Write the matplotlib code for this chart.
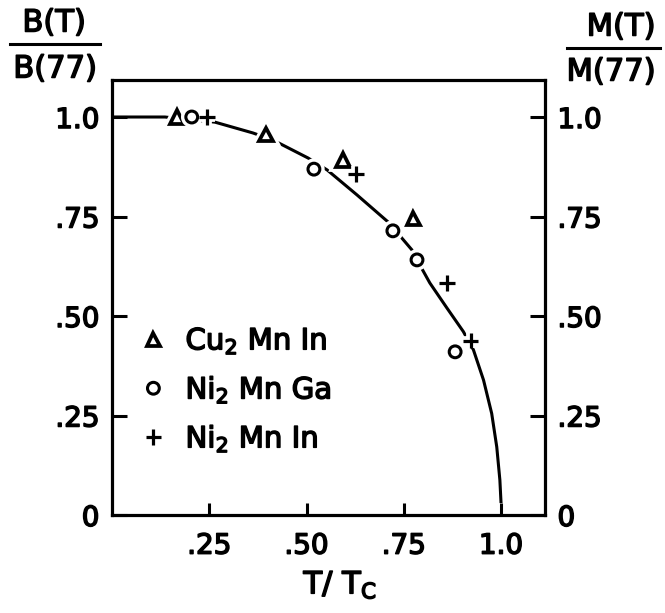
import numpy as np
import matplotlib.pyplot as plt
import matplotlib.patheffects as pe
from matplotlib.lines import Line2D

# smooth curve drawn through the data
curve_x = [0.0, 0.136, 0.265, 0.362, 0.414, 0.504, 0.553, 0.630, 0.710, 0.771,
           0.784, 0.817, 0.861, 0.903, 0.929, 0.955, 0.976, 0.989, 0.997, 1.0]
curve_y = [1.0, 1.0, 0.987, 0.960, 0.942, 0.897, 0.867, 0.804, 0.736, 0.666,
           0.641, 0.583, 0.520, 0.461, 0.415, 0.339, 0.255, 0.171, 0.088, 0.03]

# measured points
cu_x = [0.167, 0.396, 0.594, 0.774]
cu_y = [1.0, 0.957, 0.892, 0.744]
niga_x = [0.205, 0.519, 0.722, 0.784, 0.882]
niga_y = [1.0, 0.869, 0.714, 0.641, 0.41]
niin_x = [0.244, 0.627, 0.861, 0.922]
niin_y = [1.0, 0.857, 0.583, 0.438]

labels = [r'Cu$_2$ Mn In', r'Ni$_2$ Mn Ga', r'Ni$_2$ Mn In']
ticks = [0.25, 0.5, 0.75, 1.0]
xtick_labels = ['.25', '.50', '.75', '1.0']
yticks = [0, 0.25, 0.5, 0.75, 1.0]
ytick_labels = ['0', '.25', '.50', '.75', '1.0']

plt.rcParams['font.family'] = 'DejaVu Sans'
plt.rcParams['mathtext.default'] = 'regular'

# thicken the lettering a little, like the ink drawing
ink = [pe.withStroke(linewidth=1.1, foreground='black')]

W, H = 665, 613
fig = plt.figure(figsize=(W / 100, H / 100), dpi=100)
ax = fig.add_axes([112 / W, 1 - 515 / H, 433 / W, 435 / H])

ax.plot(curve_x, curve_y, color='black', lw=2.2, solid_capstyle='butt', zorder=2)

halo = [pe.withStroke(linewidth=7, foreground='white')]
kw = dict(ls='none', color='black', mfc='white', zorder=3, path_effects=halo)
ax.plot(cu_x, cu_y, marker='^', ms=9.5, mew=2.7, label=labels[0], **kw)
ax.plot(niga_x, niga_y, marker='o', ms=8.5, mew=2.2, label=labels[1], **kw)
ax.plot(niin_x, niin_y, marker='+', ms=11, mew=2.3, label=labels[2], **kw)

ax.set_xlim(0, 1.113)
ax.set_ylim(0, 1.093)

for s in ax.spines.values():
    s.set_linewidth(2.3)

ax.set_xticks(ticks)
ax.set_xticklabels(xtick_labels)
ax.set_yticks(yticks)
ax.set_yticklabels(ytick_labels)
ax.tick_params(axis='y', direction='in', length=11, width=2.2, pad=9,
               labelsize=20, left=True, right=True, labelleft=True, labelright=True)
ax.tick_params(axis='x', direction='in', length=9, width=2.2, pad=12, labelsize=20)
for t in ax.get_xticklabels() + ax.get_yticklabels():
    t.set_path_effects(ink)

ax.set_xlabel(r'T/ T$_C$', fontsize=22, path_effects=ink)
ax.xaxis.set_label_coords(0.527, -0.125)

leg = ax.legend(loc='upper left', bbox_to_anchor=(0.035, 0.46), frameon=False,
                fontsize=21, handlelength=1.0, handletextpad=0.6, labelspacing=0.62,
                borderaxespad=0)
for t in leg.get_texts():
    t.set_path_effects(ink)

# fraction labels of the two axes
for x, y, s in [(54, 23, 'B(T)'), (55, 69, 'B(77)'), (621, 27, 'M(T)'), (611, 72, 'M(77)')]:
    fig.text(x / W, 1 - y / H, s, ha='center', va='center', fontsize=22, path_effects=ink)
fig.add_artist(Line2D([10 / W, 100 / W], [1 - 44 / H, 1 - 44 / H], color='black', lw=2.2))
fig.add_artist(Line2D([567 / W, 660 / W], [1 - 48 / H, 1 - 48 / H], color='black', lw=2.2))

fig.savefig('out.png', dpi=100, facecolor='white')
